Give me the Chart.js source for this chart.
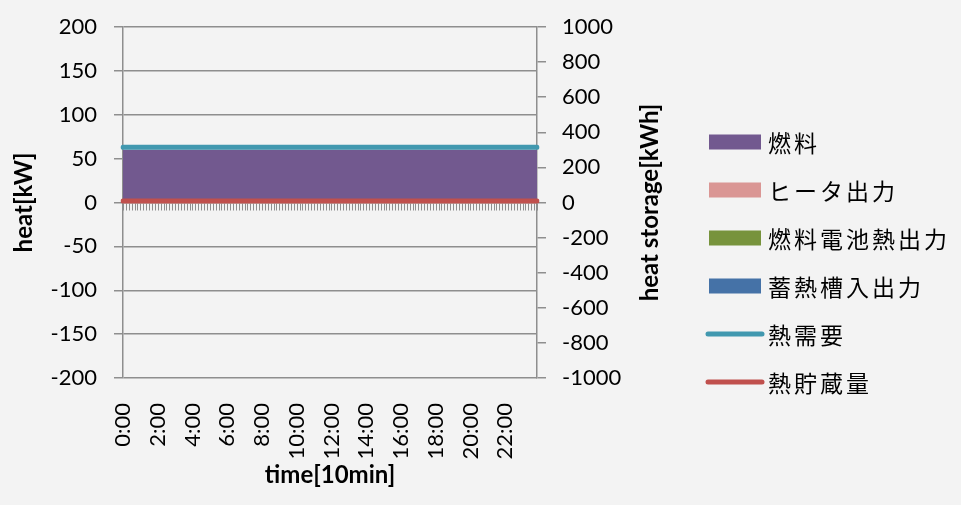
<!DOCTYPE html>
<html>
<head>
<meta charset="utf-8">
<script src="https://cdn.jsdelivr.net/npm/chart.js@4/dist/chart.umd.min.js"></script>
<style>
  html, body { margin: 0; padding: 0; background: #f3f3f3; }
  #wrap { width: 961px; height: 505px; }
</style>
</head>
<body>
<div id="wrap"><canvas id="c" width="961" height="505"></canvas></div>
<script>
// Time of day in 10-minute steps (144 slots)
const timeSlots = [];
for (let h = 0; h < 24; h++) {
  for (let m = 0; m < 60; m += 10) timeSlots.push(h + ':' + String(m).padStart(2, '0'));
}
const shownTimeLabels = ['0:00','2:00','4:00','6:00','8:00','10:00','12:00','14:00','16:00','18:00','20:00','22:00'];

// Heat balance [kW]
const fuel = [
  60,60,60,60,60,60,60,60,60,60,60,60, 60,60,60,60,60,60,60,60,60,60,60,60,
  60,60,60,60,60,60,60,60,60,60,60,60, 60,60,60,60,60,60,60,60,60,60,60,60,
  60,60,60,60,60,60,60,60,60,60,60,60, 60,60,60,60,60,60,60,60,60,60,60,60,
  60,60,60,60,60,60,60,60,60,60,60,60, 60,60,60,60,60,60,60,60,60,60,60,60,
  60,60,60,60,60,60,60,60,60,60,60,60, 60,60,60,60,60,60,60,60,60,60,60,60,
  60,60,60,60,60,60,60,60,60,60,60,60, 60,60,60,60,60,60,60,60,60,60,60,60
];
const heaterOut = [
  0,0,0,0,0,0,0,0,0,0,0,0, 0,0,0,0,0,0,0,0,0,0,0,0, 0,0,0,0,0,0,0,0,0,0,0,0,
  0,0,0,0,0,0,0,0,0,0,0,0, 0,0,0,0,0,0,0,0,0,0,0,0, 0,0,0,0,0,0,0,0,0,0,0,0,
  0,0,0,0,0,0,0,0,0,0,0,0, 0,0,0,0,0,0,0,0,0,0,0,0, 0,0,0,0,0,0,0,0,0,0,0,0,
  0,0,0,0,0,0,0,0,0,0,0,0, 0,0,0,0,0,0,0,0,0,0,0,0, 0,0,0,0,0,0,0,0,0,0,0,0
];
const fuelCellHeat = [
  0,0,0,0,0,0,0,0,0,0,0,0, 0,0,0,0,0,0,0,0,0,0,0,0, 0,0,0,0,0,0,0,0,0,0,0,0,
  0,0,0,0,0,0,0,0,0,0,0,0, 0,0,0,0,0,0,0,0,0,0,0,0, 0,0,0,0,0,0,0,0,0,0,0,0,
  0,0,0,0,0,0,0,0,0,0,0,0, 0,0,0,0,0,0,0,0,0,0,0,0, 0,0,0,0,0,0,0,0,0,0,0,0,
  0,0,0,0,0,0,0,0,0,0,0,0, 0,0,0,0,0,0,0,0,0,0,0,0, 0,0,0,0,0,0,0,0,0,0,0,0
];
const tankInOut = [
  0,0,0,0,0,0,0,0,0,0,0,0, 0,0,0,0,0,0,0,0,0,0,0,0, 0,0,0,0,0,0,0,0,0,0,0,0,
  0,0,0,0,0,0,0,0,0,0,0,0, 0,0,0,0,0,0,0,0,0,0,0,0, 0,0,0,0,0,0,0,0,0,0,0,0,
  0,0,0,0,0,0,0,0,0,0,0,0, 0,0,0,0,0,0,0,0,0,0,0,0, 0,0,0,0,0,0,0,0,0,0,0,0,
  0,0,0,0,0,0,0,0,0,0,0,0, 0,0,0,0,0,0,0,0,0,0,0,0, 0,0,0,0,0,0,0,0,0,0,0,0
];
const heatDemand = [
  63,63,63,63,63,63,63,63,63,63,63,63, 63,63,63,63,63,63,63,63,63,63,63,63,
  63,63,63,63,63,63,63,63,63,63,63,63, 63,63,63,63,63,63,63,63,63,63,63,63,
  63,63,63,63,63,63,63,63,63,63,63,63, 63,63,63,63,63,63,63,63,63,63,63,63,
  63,63,63,63,63,63,63,63,63,63,63,63, 63,63,63,63,63,63,63,63,63,63,63,63,
  63,63,63,63,63,63,63,63,63,63,63,63, 63,63,63,63,63,63,63,63,63,63,63,63,
  63,63,63,63,63,63,63,63,63,63,63,63, 63,63,63,63,63,63,63,63,63,63,63,63
];
// Stored heat [kWh]
const heatStored = [
  8,8,8,8,8,8,8,8,8,8,8,8, 8,8,8,8,8,8,8,8,8,8,8,8, 8,8,8,8,8,8,8,8,8,8,8,8,
  8,8,8,8,8,8,8,8,8,8,8,8, 8,8,8,8,8,8,8,8,8,8,8,8, 8,8,8,8,8,8,8,8,8,8,8,8,
  8,8,8,8,8,8,8,8,8,8,8,8, 8,8,8,8,8,8,8,8,8,8,8,8, 8,8,8,8,8,8,8,8,8,8,8,8,
  8,8,8,8,8,8,8,8,8,8,8,8, 8,8,8,8,8,8,8,8,8,8,8,8, 8,8,8,8,8,8,8,8,8,8,8,8
];

const GRID = '#8e8e8e';
const TICK_FONT = { family: 'Lato', size: 22 };
const Y_TICK_FONT = { family: 'Lato', size: 22, lineHeight: 0.9 };
const TITLE_FONT = { family: 'Lato', size: 24, weight: 'bold' };

function area(label, data, color, fill) {
  return { type: 'line', label, data, yAxisID: 'y', stack: 'heat', fill,
    backgroundColor: color, borderColor: color, borderWidth: 0,
    pointRadius: 0, tension: 0, order: 2 };
}

// Page background
const bgPlugin = {
  id: 'bg',
  beforeDraw(chart) {
    const ctx = chart.ctx;
    ctx.save();
    ctx.fillStyle = '#f3f3f3';
    ctx.fillRect(0, 0, chart.width, chart.height);
    ctx.restore();
  }
};

// Category tick marks hanging below the zero line
const zeroTicks = {
  id: 'zeroTicks',
  beforeDatasetsDraw(chart) {
    const { ctx, scales: { x, y } } = chart;
    const y0 = y.getPixelForValue(0);
    ctx.save();
    ctx.strokeStyle = GRID;
    ctx.lineWidth = 1;
    for (let i = 0; i < timeSlots.length; i++) {
      const px = Math.round(x.getPixelForValue(i)) + 0.5;
      ctx.beginPath();
      ctx.moveTo(px, y0 + 1);
      ctx.lineTo(px, y0 + 8);
      ctx.stroke();
    }
    ctx.restore();
  }
};

// Right-hand axis title, read from bottom to top
const rightTitle = {
  id: 'rightTitle',
  afterDraw(chart) {
    const { ctx, chartArea } = chart;
    ctx.save();
    ctx.translate(650, (chartArea.top + chartArea.bottom) / 2);
    ctx.rotate(-Math.PI / 2);
    ctx.font = 'bold 24px Lato';
    ctx.fillStyle = '#000';
    ctx.textAlign = 'center';
    ctx.textBaseline = 'middle';
    ctx.fillText('heat storage[kWh]', 0, 0);
    ctx.restore();
  }
};

// Legend on the right
const sideLegend = {
  id: 'sideLegend',
  afterDraw(chart) {
    const ctx = chart.ctx;
    const x0 = 709, x1 = 761, tx = 768;
    let yc = 142;
    ctx.save();
    ctx.font = '23px "Noto Sans CJK JP"';
    ctx.textBaseline = 'middle';
    ctx.letterSpacing = '3px';
    chart.data.datasets.forEach(ds => {
      if (ds.fill) {
        ctx.fillStyle = ds.backgroundColor;
        ctx.fillRect(x0, yc - 7.5, x1 - x0, 15);
      } else {
        ctx.strokeStyle = ds.borderColor;
        ctx.lineWidth = 5;
        ctx.lineCap = 'round';
        ctx.beginPath();
        ctx.moveTo(x0 - 1, yc);
        ctx.lineTo(x1 + 1, yc);
        ctx.stroke();
      }
      ctx.fillStyle = '#000';
      ctx.fillText(ds.label, tx, yc + 1);
      yc += 48;
    });
    ctx.restore();
  }
};

new Chart(document.getElementById('c'), {
  data: {
    labels: timeSlots,
    datasets: [
      area('燃料', fuel, '#72598f', 'origin'),
      area('ヒータ出力', heaterOut, '#da9694', '-1'),
      area('燃料電池熱出力', fuelCellHeat, '#77933c', '-1'),
      area('蓄熱槽入出力', tankInOut, '#4572a7', '-1'),
      { type: 'line', label: '熱需要', data: heatDemand, yAxisID: 'y', stack: 'demand',
        fill: false, borderColor: '#4198af', backgroundColor: '#4198af', borderWidth: 5,
        borderCapStyle: 'round', pointRadius: 0, tension: 0, order: 1 },
      { type: 'line', label: '熱貯蔵量', data: heatStored, yAxisID: 'y1',
        fill: false, borderColor: '#c0504d', backgroundColor: '#c0504d', borderWidth: 5,
        borderCapStyle: 'round', pointRadius: 0, tension: 0, order: 0 }
    ]
  },
  options: {
    responsive: false,
    animation: false,
    devicePixelRatio: 1,
    layout: { padding: { left: 0, right: 293, top: 27, bottom: 0 } },
    plugins: { legend: { display: false }, tooltip: { enabled: false } },
    scales: {
      x: {
        type: 'category',
        offset: false,
        grid: { display: false },
        border: { display: false },
        ticks: {
          autoSkip: false, maxRotation: 90, minRotation: 90, padding: 17,
          color: '#000', font: TICK_FONT,
          callback(v, i) {
            const t = timeSlots[i];
            return shownTimeLabels.includes(t) ? t : '';
          }
        },
        title: { display: true, text: 'time[10min]', color: '#000', font: TITLE_FONT,
          padding: { top: 0, bottom: 15 } },
        afterFit(s) { s.height = 127; }
      },
      y: {
        position: 'left',
        stacked: true,
        min: -200, max: 200,
        ticks: { stepSize: 50, padding: 17, color: '#000', font: Y_TICK_FONT },
        grid: { color: GRID, lineWidth: 1.5, tickLength: 9, tickColor: GRID },
        border: { display: true, color: GRID, width: 1.5 },
        title: { display: true, text: 'heat[kW]', color: '#000', font: TITLE_FONT,
          padding: { top: 10, bottom: 0 } },
        afterFit(s) { s.width = 123; }
      },
      y1: {
        position: 'right',
        min: -1000, max: 1000,
        ticks: { stepSize: 200, padding: 16, color: '#000', font: Y_TICK_FONT,
          callback(v) { return String(v); } },
        grid: { drawOnChartArea: false, color: GRID, lineWidth: 1.5, tickLength: 9, tickColor: GRID },
        border: { display: true, color: GRID, width: 1.5 },
        afterFit(s) { s.width = 131; }
      }
    }
  },
  plugins: [bgPlugin, zeroTicks, rightTitle, sideLegend]
});
</script>
</body>
</html>
